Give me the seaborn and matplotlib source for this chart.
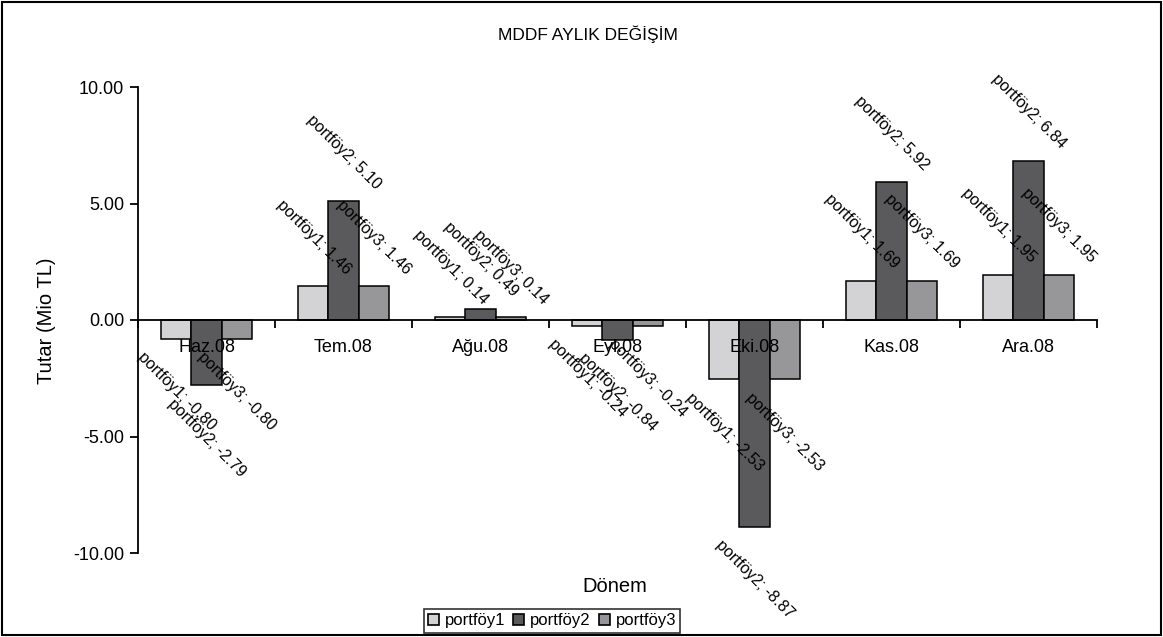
import matplotlib
matplotlib.use("Agg")
import matplotlib.pyplot as plt
from matplotlib.patches import Rectangle, Patch
from matplotlib.ticker import FixedLocator, FormatStrFormatter
import seaborn as sns
import pandas as pd

# Monthly change data
months = ["Haz.08", "Tem.08", "Ağu.08", "Eyl.08", "Eki.08", "Kas.08", "Ara.08"]
series_names = ["portföy1", "portföy2", "portföy3"]
portfoy1 = [-0.80, 1.46, 0.14, -0.24, -2.53, 1.69, 1.95]
portfoy2 = [-2.79, 5.10, 0.49, -0.84, -8.87, 5.92, 6.84]
portfoy3 = [-0.80, 1.46, 0.14, -0.24, -2.53, 1.69, 1.95]
y_ticks = [-10, -5, 0, 5, 10]

colors = ["#D3D3D5", "#5A5A5C", "#96969A"]

rows = []
for name, vals in zip(series_names, [portfoy1, portfoy2, portfoy3]):
    for m, v in zip(months, vals):
        rows.append({"Dönem": m, "seri": name, "Tutar": v})
df = pd.DataFrame(rows)

sns.set_style("white")
plt.rcParams["font.family"] = ["Liberation Sans", "DejaVu Sans"]
plt.rcParams["text.color"] = "black"
plt.rcParams["axes.labelcolor"] = "black"
plt.rcParams["xtick.color"] = "black"
plt.rcParams["ytick.color"] = "black"

fig = plt.figure(figsize=(11.63, 6.37), dpi=100)
ax = fig.add_axes([138 / 1163, 1 - 553 / 637, (1097 - 138) / 1163, (553 - 87) / 637])

sns.barplot(data=df, x="Dönem", y="Tutar", hue="seri", order=months,
            hue_order=series_names, palette=colors, width=0.657,
            edgecolor="black", linewidth=1.1, legend=False, ax=ax,
            errorbar=None)

ax.set_ylim(-10, 10)
ax.set_xlim(-0.5, len(months) - 0.5)

# Value labels, rotated, centred over each bar
for container, name in zip(ax.containers, series_names):
    for bar in container:
        val = bar.get_y() + bar.get_height() if bar.get_y() == 0 else bar.get_y()
        xc = bar.get_x() + bar.get_width() / 2
        if val >= 0:
            ax.annotate(f"{name}; {val:.2f}", (xc, val), xytext=(0, 9),
                        textcoords="offset pixels", rotation=-45,
                        ha="center", va="bottom", fontsize=11.5, zorder=5)
        else:
            ax.annotate(f"{name}; {val:.2f}", (xc, val), xytext=(0, -11),
                        textcoords="offset pixels", rotation=-45,
                        ha="center", va="top", fontsize=11.5, zorder=5)

# Axes styling: x axis on the zero line, drawn above the bars
for s in ["top", "right"]:
    ax.spines[s].set_visible(False)
ax.spines["bottom"].set_position(("data", 0))
ax.spines["bottom"].set_linewidth(1.3)
ax.spines["left"].set_linewidth(1.3)
ax.spines["bottom"].set_color("black")
ax.spines["left"].set_color("black")
ax.set_axisbelow(False)
ax.xaxis.set_zorder(6)
ax.spines["bottom"].set_zorder(6)

ax.yaxis.set_major_locator(FixedLocator(y_ticks))
ax.yaxis.set_major_formatter(FormatStrFormatter("%.2f"))
ax.tick_params(axis="y", direction="out", length=6, width=1.3, labelsize=13,
               left=True, pad=4)
ax.set_xticks(range(len(months)))
ax.set_xticklabels(months)
ax.tick_params(axis="x", which="major", length=0, labelsize=13, pad=14)
ax.xaxis.set_minor_locator(FixedLocator([i - 0.5 for i in range(len(months) + 1)]))
ax.tick_params(axis="x", which="minor", direction="out", length=6, width=1.3,
               bottom=True)
ax.set_xlabel("")
ax.set_ylabel("")

fig.text(588 / 1163, 1 - 34 / 637, "MDDF AYLIK DEĞİŞİM", ha="center",
         va="center", fontsize=12.5)
fig.text(615 / 1163, 1 - 586 / 637, "Dönem", ha="center", va="center",
         fontsize=14.5)
fig.text(47 / 1163, 1 - 321 / 637, "Tutar (Mio TL)", ha="center", va="center",
         rotation=90, fontsize=14.5)

handles = [Patch(facecolor=c, edgecolor="black", linewidth=1.2) for c in colors]
leg = fig.legend(handles, series_names, loc="center", ncol=3,
                 bbox_to_anchor=(552 / 1163, 1 - 621 / 637), fontsize=12,
                 frameon=True, fancybox=False, handlelength=0.65,
                 handleheight=0.65, handletextpad=0.35, columnspacing=0.5,
                 borderpad=0.25, borderaxespad=0)
leg.get_frame().set_edgecolor("black")
leg.get_frame().set_linewidth(1.2)

# Outer frame around the figure
fig.patches.append(Rectangle((2 / 1163, 2 / 637), 1 - 4 / 1163, 1 - 4 / 637,
                             transform=fig.transFigure, fill=False,
                             edgecolor="black", linewidth=1.5))

fig.savefig("out.png", dpi=100)
